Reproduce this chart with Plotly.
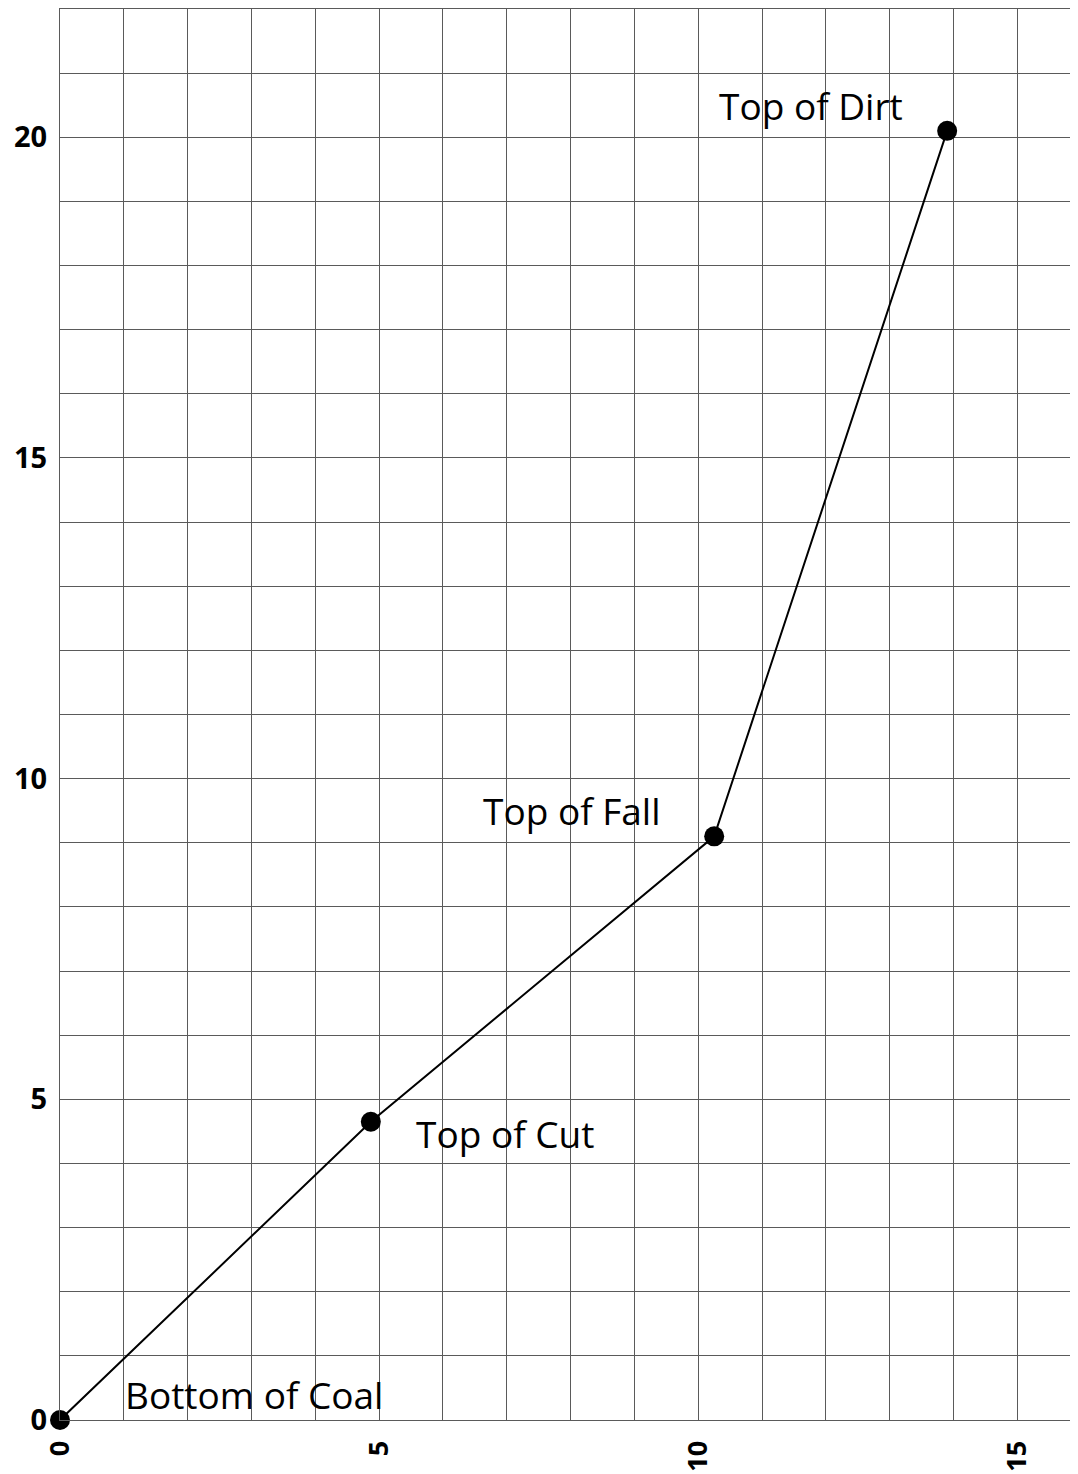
import plotly.graph_objects as go

# Data
labels = ["Bottom of Coal", "Top of Cut", "Top of Fall", "Top of Dirt"]
x_vals = [0, 4.87, 10.25, 13.9]
y_vals = [0, 4.65, 9.1, 20.1]
# label anchor positions (left-middle of text)
label_x = [0.99, 5.55, 6.6, 10.3]
label_y = [0.39, 4.47, 9.5, 20.5]
x_ticks = [0, 5, 10, 15]
y_ticks = [0, 5, 10, 15, 20]

fig = go.Figure()
fig.add_trace(go.Scatter(
    x=x_vals, y=y_vals, mode="lines+markers",
    line=dict(color="black", width=2),
    marker=dict(color="black", size=20),
    cliponaxis=False, showlegend=False,
))

for t, lx, ly in zip(labels, label_x, label_y):
    fig.add_annotation(x=lx, y=ly, text=t, showarrow=False,
                       xanchor="left", yanchor="middle",
                       font=dict(family="Open Sans", size=37, color="black"))

grid_color = "#5a5a5a"
fig.update_xaxes(
    range=[0, 15.95],
    tickvals=x_ticks, ticktext=[str(v) for v in x_ticks],
    showgrid=False, zeroline=False, automargin=False,
    showline=True, linecolor=grid_color, linewidth=1, mirror=True,
    tickangle=-90, ticks="", ticklabelstandoff=9,
    tickfont=dict(family="Open Sans", size=27, color="black", weight="bold"),
)
fig.update_yaxes(
    range=[0, 22],
    tickvals=y_ticks, ticktext=[str(v) for v in y_ticks],
    showgrid=False, zeroline=False, automargin=False,
    showline=True, linecolor=grid_color, linewidth=1,
    ticks="", ticklabelstandoff=6,
    tickfont=dict(family="Open Sans", size=29, color="black", weight="bold"),
)

# grid lines every unit drawn as minor grid
fig.update_xaxes(minor=dict(dtick=1, tick0=0, showgrid=True, gridcolor=grid_color, gridwidth=1))
fig.update_yaxes(minor=dict(dtick=1, tick0=0, showgrid=True, gridcolor=grid_color, gridwidth=1))

fig.update_layout(
    width=1070, height=1466,
    margin=dict(l=52, r=0, t=1, b=54),
    plot_bgcolor="white", paper_bgcolor="white",
)

fig.write_html("out.html")
